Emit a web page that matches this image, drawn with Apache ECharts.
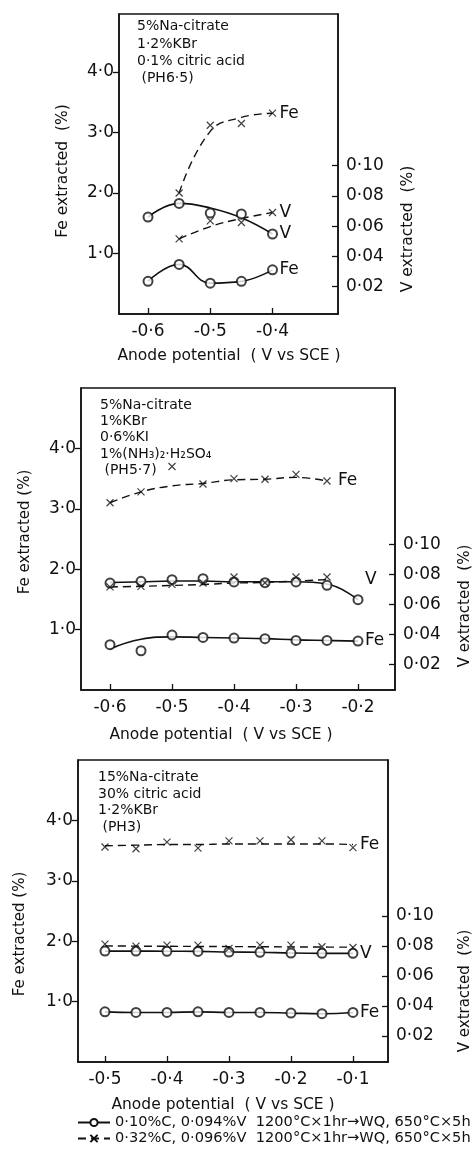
<!DOCTYPE html>
<html>
<head>
<meta charset="utf-8">
<script src="https://cdn.jsdelivr.net/npm/echarts@6/dist/echarts.min.js"></script>
<style>
html, body { margin: 0; padding: 0; background: #fff; }
#main { width: 474px; height: 1162px; }
</style>
</head>
<body>
<div id="main"></div>
<script>
// anode potential (V vs SCE) of each measured point
var x1 = [-0.6, -0.55, -0.5, -0.45, -0.4];
var x1b = [-0.55, -0.5, -0.45, -0.4];
var x2 = [-0.6, -0.55, -0.5, -0.45, -0.4, -0.35, -0.3, -0.25, -0.2];
var x2b = [-0.6, -0.55, -0.5, -0.45, -0.4, -0.35, -0.3, -0.25];
var x3 = [-0.5, -0.45, -0.4, -0.35, -0.3, -0.25, -0.2, -0.15, -0.1];

// panel 1 : 5% Na-citrate, 1.2% KBr, 0.1% citric acid
var p1FeA = [0.54, 0.82, 0.51, 0.54, 0.73];
var p1FeAfit = [0.54, 0.82, 0.51, 0.54, 0.73];
var p1VA = [0.066, 0.075, 0.0686, 0.068, 0.0548];
var p1VAfit = [0.066, 0.075, 0.072, 0.0655, 0.0548];
var p1FeB = [2.0, 3.12, 3.15, 3.32];
var p1FeBfit = [2.0, 3.02, 3.25, 3.32];
var p1VB = [0.0516, 0.0635, 0.0624, 0.069];
var p1VBfit = [0.0516, 0.0597, 0.065, 0.069];

// panel 2 : 5% Na-citrate, 1% KBr, 0.6% KI, 1% (NH3)2.H2SO4
var p2FeA = [0.75, 0.65, 0.91, 0.87, 0.86, 0.85, 0.82, 0.82, 0.81];
var p2FeAfit = [0.68, 0.84, 0.88, 0.87, 0.86, 0.85, 0.83, 0.82, 0.81];
var p2VA = [0.0742, 0.0753, 0.0764, 0.0771, 0.0749, 0.0744, 0.0749, 0.0727, 0.0631];
var p2VAfit = [0.0745, 0.075, 0.0755, 0.0755, 0.075, 0.075, 0.075, 0.0735, 0.0631];
var p2FeB = [3.10, 3.28, 3.70, 3.41, 3.50, 3.49, 3.57, 3.46];
var p2FeBfit = [3.10, 3.28, 3.38, 3.42, 3.48, 3.49, 3.52, 3.46];
var p2VB = [0.0716, 0.072, 0.0733, 0.0742, 0.0782, 0.0744, 0.0782, 0.0782];
var p2VBfit = [0.0716, 0.072, 0.0726, 0.0732, 0.0742, 0.0746, 0.0755, 0.0765];

// panel 3 : 15% Na-citrate, 30% citric acid, 1.2% KBr
var p3FeA = [0.83, 0.82, 0.82, 0.83, 0.82, 0.82, 0.81, 0.80, 0.82];
var p3VA = [0.0765, 0.0765, 0.0764, 0.0763, 0.0759, 0.0757, 0.0752, 0.075, 0.075];
var p3FeB = [3.56, 3.53, 3.64, 3.54, 3.66, 3.66, 3.68, 3.66, 3.55];
var p3FeBfit = [3.58, 3.59, 3.60, 3.60, 3.61, 3.61, 3.61, 3.61, 3.60];
var p3VB = [0.0811, 0.0798, 0.0805, 0.0805, 0.0783, 0.0805, 0.0805, 0.0794, 0.0789];
var p3VBfit = [0.0800, 0.0798, 0.0797, 0.0796, 0.0795, 0.0794, 0.0793, 0.0792, 0.0791];

var feTicks = [1, 2, 3, 4];
var vTicks = [0.02, 0.04, 0.06, 0.08, 0.10];
var xTicks1 = [-0.6, -0.5, -0.4];
var xTicks2 = [-0.6, -0.5, -0.4, -0.3, -0.2];
var xTicks3 = [-0.5, -0.4, -0.3, -0.2, -0.1];

var nameA = '0·10%C, 0·094%V  1200°C×1hr→WQ, 650°C×5h';
var nameB = '0·32%C, 0·096%V  1200°C×1hr→WQ, 650°C×5h';

var INK = '#111';
var FONT = '"DejaVu Sans", "Noto Sans", sans-serif';
var CROSS = 'path://M0,0L10,10M0,10L10,0';

function pts(xs, ys) {
  return xs.map(function (x, i) { return [x, ys[i]]; });
}
function dot(v, d) {
  var s = Math.abs(v).toFixed(d).replace('.', '·');
  return (v < -1e-9 ? '-' : '') + s;
}

function xAxis(g, min, max, ticks) {
  return {
    type: 'value', gridIndex: g, min: min, max: max,
    axisLine: { show: true, onZero: false, lineStyle: { color: INK, width: 1.5 } },
    axisTick: { show: true, inside: true, length: 6, customValues: ticks, lineStyle: { color: INK, width: 1.3 } },
    axisLabel: { customValues: ticks, margin: 9, fontSize: 17, color: INK, fontFamily: FONT,
      formatter: function (v) { return dot(v, 1); } },
    splitLine: { show: false }
  };
}
function feAxis(g, max) {
  return {
    type: 'value', gridIndex: g, position: 'left', min: 0, max: max,
    axisLine: { show: true, onZero: false, lineStyle: { color: INK, width: 1.5 } },
    axisTick: { show: true, length: 6, customValues: feTicks, lineStyle: { color: INK, width: 1.3 } },
    axisLabel: { customValues: feTicks, margin: 5, fontSize: 17, color: INK, fontFamily: FONT,
      formatter: function (v) { return dot(v, 1); } },
    splitLine: { show: false }
  };
}
function vAxis(g, min, max) {
  return {
    type: 'value', gridIndex: g, position: 'right', min: min, max: max,
    axisLine: { show: true, onZero: false, lineStyle: { color: INK, width: 1.5 } },
    axisTick: { show: true, inside: true, length: 6, customValues: vTicks, lineStyle: { color: INK, width: 1.3 } },
    axisLabel: { customValues: vTicks, margin: 8, fontSize: 17, color: INK, fontFamily: FONT,
      formatter: function (v) { return dot(v, 2); } },
    splitLine: { show: false }
  };
}

// g: panel index, v: 0 = Fe axis, 1 = V axis, b: dashed (x) steel
function curve(g, v, b, xs, ys, label, offset) {
  return {
    type: 'line', name: b ? nameB : nameA,
    xAxisIndex: g, yAxisIndex: g * 2 + v,
    data: pts(xs, ys), smooth: 0.45,
    symbol: b ? CROSS : 'emptyCircle', symbolSize: b ? 7 : 9, showSymbol: false,
    itemStyle: { color: INK, borderColor: INK, borderWidth: 1.2 },
    lineStyle: { color: INK, width: b ? 1.4 : 1.6, type: b ? [8, 5] : 'solid' },
    endLabel: { show: !!label, formatter: label || '', offset: offset || [0, 0], distance: 7,
      fontSize: 17, color: INK, fontFamily: FONT },
    silent: true, z: 2
  };
}
function marks(g, v, b, xs, ys) {
  return {
    type: 'scatter', xAxisIndex: g, yAxisIndex: g * 2 + v,
    data: pts(xs, ys),
    symbol: b ? CROSS : 'emptyCircle', symbolSize: b ? 7 : 9,
    itemStyle: b ? { color: INK, borderColor: INK, borderWidth: 1.2 }
                 : { color: INK, borderWidth: 1.4 },
    silent: true, z: 3
  };
}

function txt(x, y, s, size, rot, align, lh) {
  return {
    type: 'text', x: x, y: y, rotation: rot || 0, silent: true,
    style: { text: s, fill: INK, font: size + 'px ' + FONT,
      align: align || 'center', verticalAlign: align === 'left' ? 'top' : 'middle',
      lineHeight: lh || size }
  };
}

var chart = echarts.init(document.getElementById('main'), null, { renderer: 'canvas' });

var grid = { show: true, borderColor: INK, borderWidth: 1.5, outerBoundsMode: 'none' };

var option = {
  animation: false,
  backgroundColor: '#fff',
  grid: [
    Object.assign({ left: 119, top: 14, width: 219, height: 300 }, grid),
    Object.assign({ left: 81, top: 388, width: 314, height: 302 }, grid),
    Object.assign({ left: 78, top: 760, width: 310, height: 302 }, grid)
  ],
  xAxis: [
    xAxis(0, -0.6466, -0.2948, xTicks1),
    xAxis(1, -0.6468, -0.1403, xTicks2),
    xAxis(2, -0.5435, -0.0435, xTicks3)
  ],
  yAxis: [
    feAxis(0, 4.96), vAxis(0, 0.002, 0.2),
    feAxis(1, 5), vAxis(1, 0.003, 0.204),
    feAxis(2, 5), vAxis(2, 0.0025, 0.204)
  ],
  legend: {
    left: 72, top: 1110, orient: 'vertical', itemWidth: 32, itemHeight: 9, itemGap: 1,
    selectedMode: false,
    textStyle: { fontSize: 14.6, color: INK, fontFamily: FONT },
    data: [nameA, nameB]
  },
  series: [
    curve(0, 0, false, x1, p1FeAfit, 'Fe'),
    curve(0, 1, false, x1, p1VAfit, 'V'),
    curve(0, 0, true, x1b, p1FeBfit, 'Fe'),
    curve(0, 1, true, x1b, p1VBfit, 'V'),
    marks(0, 0, false, x1, p1FeA),
    marks(0, 1, false, x1, p1VA),
    marks(0, 0, true, x1b, p1FeB),
    marks(0, 1, true, x1b, p1VB),

    curve(1, 0, false, x2, p2FeAfit, 'Fe'),
    curve(1, 1, false, x2, p2VAfit, 'V', [0, -20]),
    curve(1, 0, true, x2b, p2FeBfit, 'Fe', [4, 0]),
    curve(1, 1, true, x2b, p2VBfit),
    marks(1, 0, false, x2, p2FeA),
    marks(1, 1, false, x2, p2VA),
    marks(1, 0, true, x2b, p2FeB),
    marks(1, 1, true, x2b, p2VB),

    curve(2, 0, false, x3, p3FeA, 'Fe'),
    curve(2, 1, false, x3, p3VA, 'V'),
    curve(2, 0, true, x3, p3FeBfit, 'Fe'),
    curve(2, 1, true, x3, p3VBfit),
    marks(2, 0, false, x3, p3FeA),
    marks(2, 1, false, x3, p3VA),
    marks(2, 0, true, x3, p3FeB),
    marks(2, 1, true, x3, p3VB)
  ],
  graphic: [
    txt(63, 171, 'Fe extracted  (%)', 15.5, Math.PI / 2),
    txt(408, 229, 'V extracted  (%)', 15.5, Math.PI / 2),
    txt(229, 356, 'Anode potential  ( V vs SCE )', 15.5),
    txt(137, 18, '5%Na-citrate\n1·2%KBr\n0·1% citric acid\n (PH6·5)', 14, 0, 'left', 17.3),

    txt(25, 532, 'Fe extracted (%)', 15, Math.PI / 2),
    txt(465, 606, 'V extracted  (%)', 15, Math.PI / 2),
    txt(221, 735, 'Anode potential  ( V vs SCE )', 15.5),
    txt(100, 397, '5%Na-citrate\n1%KBr\n0·6%KI\n1%(NH₃)₂·H₂SO₄\n (PH5·7)', 14, 0, 'left', 16.3),

    txt(20, 934, 'Fe extracted (%)', 15, Math.PI / 2),
    txt(465, 991, 'V extracted  (%)', 15, Math.PI / 2),
    txt(223, 1105, 'Anode potential  ( V vs SCE )', 15.5),
    txt(98, 769, '15%Na-citrate\n30% citric acid\n1·2%KBr\n (PH3)', 14, 0, 'left', 16.7)
  ]
};

chart.setOption(option);
</script>
</body>
</html>
